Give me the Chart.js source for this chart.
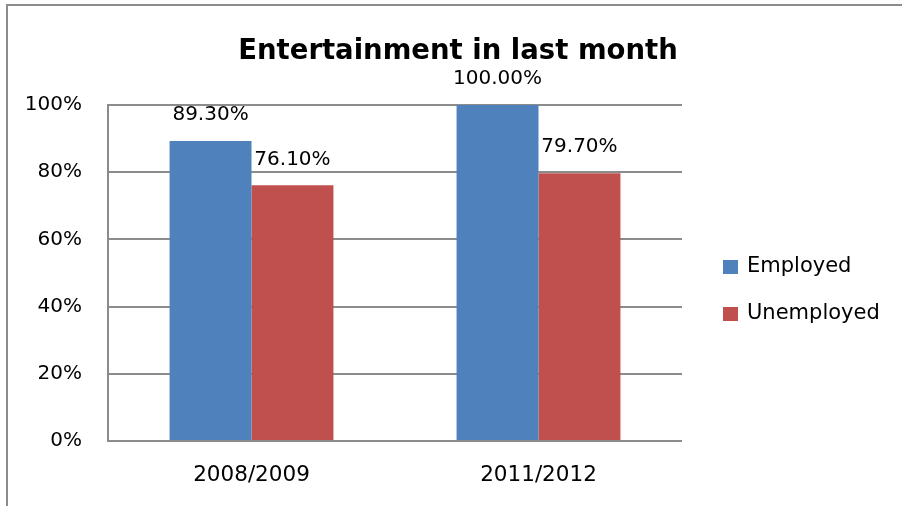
<!DOCTYPE html>
<html>
<head>
<meta charset="utf-8">
<script src="https://cdn.jsdelivr.net/npm/chart.js@4"></script>
<style>
  html, body { margin: 0; padding: 0; background: #fff; overflow: hidden; }
  #grafik { display: block; }
</style>
</head>
<body>
<canvas id="grafik" width="902" height="506"></canvas>
<script>
  // data
  const periods = ['2008/2009', '2011/2012'];
  const employed = [89.3, 100.0];
  const unemployed = [76.1, 79.7];
  const seriesNames = ['Employed', 'Unemployed'];
  const yTicks = [0, 20, 40, 60, 80, 100];

  const fontFamily = '"DejaVu Sans", sans-serif';
  const gridColor = '#8c8c8c';

  // white page background and the outer chart frame (left and top edges)
  const chartFrame = {
    id: 'chartFrame',
    beforeDraw(chart) {
      const ctx = chart.ctx;
      ctx.save();
      ctx.fillStyle = '#fff';
      ctx.fillRect(0, 0, chart.width, chart.height);
      ctx.strokeStyle = gridColor;
      ctx.lineWidth = 2;
      ctx.beginPath();
      ctx.moveTo(7, chart.height);
      ctx.lineTo(7, 5);
      ctx.lineTo(chart.width, 5);
      ctx.stroke();
      ctx.restore();
    }
  };

  // value labels above each bar
  const barLabels = {
    id: 'barLabels',
    afterDatasetsDraw(chart) {
      const ctx = chart.ctx;
      ctx.save();
      ctx.font = '20px ' + fontFamily;
      ctx.fillStyle = '#000';
      ctx.textAlign = 'center';
      ctx.textBaseline = 'middle';
      chart.data.datasets.forEach((ds, i) => {
        chart.getDatasetMeta(i).data.forEach((bar, j) => {
          ctx.fillText(ds.data[j].toFixed(2) + '%', bar.x, bar.y - 26);
        });
      });
      ctx.restore();
    }
  };

  // legend drawn in the space kept free on the right
  const sideLegend = {
    id: 'sideLegend',
    afterDraw(chart) {
      const ctx = chart.ctx;
      const x = chart.chartArea.right + 41;
      const rows = [267, 314];
      ctx.save();
      ctx.font = '21px ' + fontFamily;
      ctx.textBaseline = 'middle';
      chart.data.datasets.forEach((ds, i) => {
        ctx.fillStyle = ds.backgroundColor;
        ctx.fillRect(x, rows[i] - 7, 15, 14);
        ctx.fillStyle = '#000';
        ctx.fillText(ds.label, x + 24, rows[i]);
      });
      ctx.restore();
    }
  };

  const ctx = document.getElementById('grafik').getContext('2d');
  const myChart = new Chart(ctx, {
    type: 'bar',
    data: {
      labels: periods,
      datasets: [{
        label: seriesNames[0],
        data: employed,
        backgroundColor: '#4F81BD',
        borderWidth: 0
      }, {
        label: seriesNames[1],
        data: unemployed,
        backgroundColor: '#C0504D',
        borderWidth: 0
      }]
    },
    options: {
      responsive: false,
      animation: false,
      devicePixelRatio: 1,
      layout: { padding: { left: 14, right: 0, top: 0, bottom: 0 } },
      categoryPercentage: 0.571,
      barPercentage: 1.0,
      plugins: {
        legend: { display: false },
        tooltip: { enabled: false },
        title: {
          display: true,
          text: 'Entertainment in last month',
          color: '#000',
          font: { family: fontFamily, size: 27.5, weight: 'bold', lineHeight: 1.2 },
          padding: { top: 35, bottom: 37 }
        }
      },
      scales: {
        x: {
          grid: { display: false, drawTicks: false },
          border: { display: false },
          ticks: { color: '#000', padding: 22, font: { family: fontFamily, size: 21.5 } },
          afterFit: (s) => { s.height = 65; }
        },
        y: {
          min: 0,
          max: 100,
          afterBuildTicks: (s) => { s.ticks = yTicks.map(v => ({ value: v })); },
          ticks: {
            color: '#000',
            padding: 26,
            font: { family: fontFamily, size: 20 },
            callback: (v) => v + '%'
          },
          grid: { color: gridColor, lineWidth: 2, drawTicks: false },
          border: { display: true, color: gridColor, width: 2 },
          afterFit: (s) => { s.width = 94; }
        },
        // empty axis that only keeps room for the legend
        legendSpace: {
          position: 'right',
          display: false,
          afterFit: (s) => { s.width = 220; }
        }
      }
    },
    plugins: [chartFrame, barLabels, sideLegend]
  });
</script>
</body>
</html>
